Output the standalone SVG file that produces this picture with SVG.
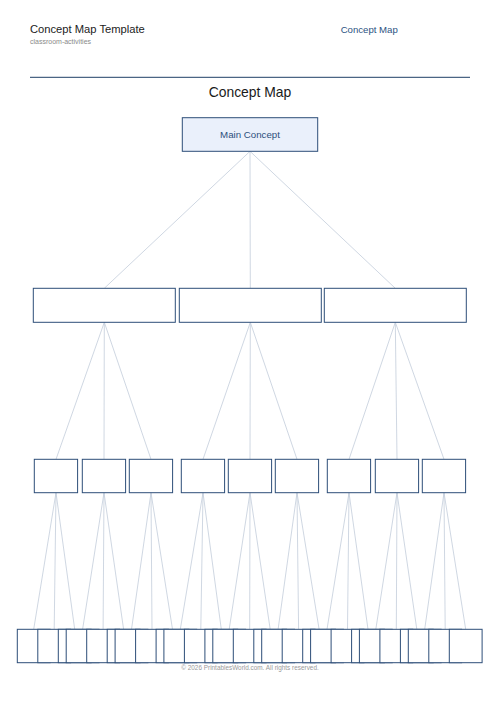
<svg xmlns="http://www.w3.org/2000/svg" width="500" height="708" viewBox="0 0 500 708">
<style>
.bg{fill:#ffffff}
.t{font-family:"Liberation Sans",Arial,sans-serif}
.box{fill:#ffffff;stroke:#2d4e78;stroke-width:1}
.main{fill:#eaf0fb;stroke:#2d4e78;stroke-width:1}
.c line{stroke:#c3cddb;stroke-width:0.8}
</style>
<rect class="bg" x="0" y="0" width="500" height="708"/>
<g id="header">
<text class="t" x="30" y="33.3" font-size="11.2" fill="#222222">Concept Map Template</text>
<text class="t" x="30" y="44.3" font-size="7" fill="#8a8a8a">classroom-activities</text>
<text class="t" x="340.7" y="33.3" font-size="9.6" fill="#2c5282">Concept Map</text>
<line x1="30" y1="77.3" x2="470" y2="77.3" stroke="#1f3f66" stroke-width="1"/>
<text class="t" x="250" y="97.3" font-size="13.9" fill="#1a1a1a" text-anchor="middle">Concept Map</text>
</g>
<g id="connectors" class="c">
<line x1="250" y1="151.3" x2="104.3" y2="288.3"/>
<line x1="250" y1="151.3" x2="250.3" y2="288.3"/>
<line x1="250" y1="151.3" x2="395.3" y2="288.3"/>
<line x1="104.3" y1="322.3" x2="56" y2="459.3"/>
<line x1="104.3" y1="322.3" x2="104" y2="459.3"/>
<line x1="104.3" y1="322.3" x2="151" y2="459.3"/>
<line x1="250.3" y1="322.3" x2="203" y2="459.3"/>
<line x1="250.3" y1="322.3" x2="250" y2="459.3"/>
<line x1="250.3" y1="322.3" x2="297" y2="459.3"/>
<line x1="395.3" y1="322.3" x2="349" y2="459.3"/>
<line x1="395.3" y1="322.3" x2="397" y2="459.3"/>
<line x1="395.3" y1="322.3" x2="444" y2="459.3"/>
<line x1="56" y1="492.7" x2="33.7" y2="629.3"/>
<line x1="56" y1="492.7" x2="54.2" y2="629.3"/>
<line x1="56" y1="492.7" x2="74.7" y2="629.3"/>
<line x1="104" y1="492.7" x2="82.6" y2="629.3"/>
<line x1="104" y1="492.7" x2="103.1" y2="629.3"/>
<line x1="104" y1="492.7" x2="123.6" y2="629.3"/>
<line x1="151" y1="492.7" x2="131.5" y2="629.3"/>
<line x1="151" y1="492.7" x2="152" y2="629.3"/>
<line x1="151" y1="492.7" x2="172.5" y2="629.3"/>
<line x1="203" y1="492.7" x2="180.3" y2="629.3"/>
<line x1="203" y1="492.7" x2="200.8" y2="629.3"/>
<line x1="203" y1="492.7" x2="221.3" y2="629.3"/>
<line x1="250" y1="492.7" x2="229.2" y2="629.3"/>
<line x1="250" y1="492.7" x2="249.7" y2="629.3"/>
<line x1="250" y1="492.7" x2="270.2" y2="629.3"/>
<line x1="297" y1="492.7" x2="278.1" y2="629.3"/>
<line x1="297" y1="492.7" x2="298.6" y2="629.3"/>
<line x1="297" y1="492.7" x2="319.1" y2="629.3"/>
<line x1="349" y1="492.7" x2="327" y2="629.3"/>
<line x1="349" y1="492.7" x2="347.5" y2="629.3"/>
<line x1="349" y1="492.7" x2="368" y2="629.3"/>
<line x1="397" y1="492.7" x2="375.8" y2="629.3"/>
<line x1="397" y1="492.7" x2="396.3" y2="629.3"/>
<line x1="397" y1="492.7" x2="416.8" y2="629.3"/>
<line x1="444" y1="492.7" x2="424.7" y2="629.3"/>
<line x1="444" y1="492.7" x2="445.2" y2="629.3"/>
<line x1="444" y1="492.7" x2="465.7" y2="629.3"/>
</g>
<g id="main-concept">
<rect class="main" x="182.3" y="117.7" width="135.4" height="33.6"/>
<text class="t" x="250" y="137.7" font-size="9.7" fill="#2c4f7c" text-anchor="middle">Main Concept</text>
</g>
<g id="sub-1"><rect class="box" x="33.3" y="288.3" width="142" height="34"/></g>
<g id="sub-2"><rect class="box" x="179.3" y="288.3" width="142" height="34"/></g>
<g id="sub-3"><rect class="box" x="324.3" y="288.3" width="142" height="34"/></g>
<g id="l3-1"><rect class="box" x="34.3" y="459.3" width="43.3" height="33.4"/></g>
<g id="l3-2"><rect class="box" x="82.3" y="459.3" width="43.3" height="33.4"/></g>
<g id="l3-3"><rect class="box" x="129.3" y="459.3" width="43.3" height="33.4"/></g>
<g id="l3-4"><rect class="box" x="181.3" y="459.3" width="43.3" height="33.4"/></g>
<g id="l3-5"><rect class="box" x="228.3" y="459.3" width="43.3" height="33.4"/></g>
<g id="l3-6"><rect class="box" x="275.3" y="459.3" width="43.3" height="33.4"/></g>
<g id="l3-7"><rect class="box" x="327.3" y="459.3" width="43.3" height="33.4"/></g>
<g id="l3-8"><rect class="box" x="375.3" y="459.3" width="43.3" height="33.4"/></g>
<g id="l3-9"><rect class="box" x="422.3" y="459.3" width="43.3" height="33.4"/></g>
<g id="l4-1"><rect class="box" x="17.3" y="629.3" width="32.8" height="33.4"/></g>
<g id="l4-2"><rect class="box" x="37.8" y="629.3" width="32.8" height="33.4"/></g>
<g id="l4-3"><rect class="box" x="58.3" y="629.3" width="32.8" height="33.4"/></g>
<g id="l4-4"><rect class="box" x="66.2" y="629.3" width="32.8" height="33.4"/></g>
<g id="l4-5"><rect class="box" x="86.7" y="629.3" width="32.8" height="33.4"/></g>
<g id="l4-6"><rect class="box" x="107.2" y="629.3" width="32.8" height="33.4"/></g>
<g id="l4-7"><rect class="box" x="115.1" y="629.3" width="32.8" height="33.4"/></g>
<g id="l4-8"><rect class="box" x="135.6" y="629.3" width="32.8" height="33.4"/></g>
<g id="l4-9"><rect class="box" x="156.1" y="629.3" width="32.8" height="33.4"/></g>
<g id="l4-10"><rect class="box" x="163.9" y="629.3" width="32.8" height="33.4"/></g>
<g id="l4-11"><rect class="box" x="184.4" y="629.3" width="32.8" height="33.4"/></g>
<g id="l4-12"><rect class="box" x="204.9" y="629.3" width="32.8" height="33.4"/></g>
<g id="l4-13"><rect class="box" x="212.8" y="629.3" width="32.8" height="33.4"/></g>
<g id="l4-14"><rect class="box" x="233.3" y="629.3" width="32.8" height="33.4"/></g>
<g id="l4-15"><rect class="box" x="253.8" y="629.3" width="32.8" height="33.4"/></g>
<g id="l4-16"><rect class="box" x="261.7" y="629.3" width="32.8" height="33.4"/></g>
<g id="l4-17"><rect class="box" x="282.2" y="629.3" width="32.8" height="33.4"/></g>
<g id="l4-18"><rect class="box" x="302.7" y="629.3" width="32.8" height="33.4"/></g>
<g id="l4-19"><rect class="box" x="310.6" y="629.3" width="32.8" height="33.4"/></g>
<g id="l4-20"><rect class="box" x="331.1" y="629.3" width="32.8" height="33.4"/></g>
<g id="l4-21"><rect class="box" x="351.6" y="629.3" width="32.8" height="33.4"/></g>
<g id="l4-22"><rect class="box" x="359.4" y="629.3" width="32.8" height="33.4"/></g>
<g id="l4-23"><rect class="box" x="379.9" y="629.3" width="32.8" height="33.4"/></g>
<g id="l4-24"><rect class="box" x="400.4" y="629.3" width="32.8" height="33.4"/></g>
<g id="l4-25"><rect class="box" x="408.3" y="629.3" width="32.8" height="33.4"/></g>
<g id="l4-26"><rect class="box" x="428.8" y="629.3" width="32.8" height="33.4"/></g>
<g id="l4-27"><rect class="box" x="449.3" y="629.3" width="32.8" height="33.4"/></g>
<g id="footer">
<text class="t" x="250" y="670" font-size="6.4" fill="#9a9a9a" text-anchor="middle">© 2026 PrintablesWorld.com. All rights reserved.</text>
</g>
</svg>
